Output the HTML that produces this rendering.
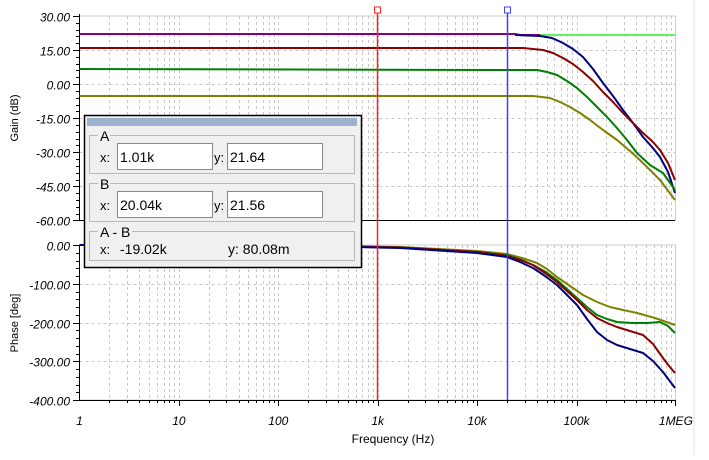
<!DOCTYPE html>
<html><head><meta charset="utf-8"><style>
body{margin:0;background:#fff;width:709px;height:455px;overflow:hidden;font-family:"Liberation Sans",sans-serif}
</style></head><body>
<svg id="s" width="709" height="455" xmlns="http://www.w3.org/2000/svg" font-family="Liberation Sans, sans-serif">
<line x1="694" y1="0" x2="694" y2="455" stroke="#e0e0e0"/>
<g id="grid" stroke="#c8c8c8" stroke-dasharray="3,3" stroke-width="1"></g>
<rect x="79.5" y="16" width="596" height="204.5" fill="none" stroke="#ccc"/>
<rect x="79.5" y="245" width="596" height="155" fill="none" stroke="#ccc"/>
<g id="ax" stroke="#000" stroke-width="1"></g>
<g id="lbl" font-size="12" font-style="italic" fill="#000"></g>
<text x="18" y="118" font-size="11" transform="rotate(-90 18 118)" text-anchor="middle">Gain (dB)</text>
<text x="18" y="323" font-size="11" transform="rotate(-90 18 323)" text-anchor="middle">Phase [deg]</text>
<text x="393" y="443" font-size="12" text-anchor="middle">Frequency (Hz)</text>
<!-- gain curves -->
<g fill="none" stroke-width="2" stroke-linejoin="round">
<polyline stroke="#66ee66" points="540,35 675,35"/>
<polyline stroke="#800080" points="79.5,34 515,34 520,35 540,35"/>
<polyline stroke="#000080" points="515,35 540,36 552,38 563,43 573,49 583,57 593,69 603,83 613,96 623,110 633,123 643,137 652,147 660,157 668,172 675,193"/>
<polyline stroke="#8b0000" points="79.5,48 523,48 543,50 553,53 563,58 573,64 583,72 593,81 603,92 613,102 623,113 633,123 643,133 652,141 660,150 668,163 675,180"/>
<polyline stroke="#008000" points="79.5,69 490,70 537,70 547,72 557,75 567,81 577,88 587,97 597,107 607,117 617,128 627,140 637,153 650,165 663,173 675,190"/>
<polyline stroke="#808000" points="79.5,96 533,96 550,98 560,102 570,107 580,113 590,120 603,130 617,140 630,151 643,163 660,180 675,200"/>
<!-- phase -->
<polyline stroke="#808000" points="79.5,245 300,245.5 400,247 477,251 507,254 522,258 537,263 547,269 557,277 570,286 583,295 597,302 610,307 623,310 637,313 655,318 675,325"/>
<polyline stroke="#008000" points="79.5,245 300,245.5 400,247.5 477,252 507,255 522,260 535,266 546,272 557,280 567,289 577,298 587,307 597,315 607,319 617,322 632,323 647,323 660,322 668,326 675,333"/>
<polyline stroke="#8b0000" points="79.5,245 300,245.5 400,247.5 477,252 507,256 520,260 533,265 545,273 557,282 567,291 577,300 587,310 597,318 607,323 617,327 630,331 643,335 653,344 663,358 669,366 675,373"/>
<polyline stroke="#000080" points="79.5,245 300,245.8 400,248 477,253 507,257 520,262 533,268 545,276 557,285 567,295 577,305 587,319 597,332 607,340 617,345 630,349 643,353 653,361 663,372 669,380 675,388"/>
</g>
<!-- cursors -->
<line x1="377.5" y1="12" x2="377.5" y2="400" stroke="#ff2020" stroke-width="1.5"/>
<line x1="507.5" y1="12" x2="507.5" y2="400" stroke="#4040ff" stroke-width="1.5"/>
<rect x="374.5" y="7" width="6" height="6" fill="#fff" stroke="#ff2020"/>
<rect x="504.5" y="7" width="6" height="6" fill="#fff" stroke="#4040ff"/>
<!-- dialog -->
<rect x="84.5" y="115.5" width="277" height="152" fill="#f0f0f0" stroke="#000" stroke-width="1.5"/>
<rect x="87" y="118" width="270" height="8" fill="#9db3cd"/>
<g fill="none" stroke="#b8b8b8">
<rect x="89.5" y="135.5" width="265" height="38"/>
<rect x="89.5" y="183.5" width="265" height="38"/>
<rect x="89.5" y="231.5" width="265" height="29"/>
</g>
<g fill="#fff" stroke="#888">
<rect x="117.5" y="143.5" width="95" height="26"/>
<rect x="227.5" y="143.5" width="95" height="26"/>
<rect x="117.5" y="191.5" width="95" height="26"/>
<rect x="227.5" y="191.5" width="95" height="26"/>
</g>
<g font-size="14" fill="#000">
<rect x="98" y="129" width="12" height="12" fill="#f0f0f0"/><text x="100" y="141">A</text>
<rect x="98" y="177" width="12" height="12" fill="#f0f0f0"/><text x="100" y="189">B</text>
<rect x="98" y="225" width="34" height="12" fill="#f0f0f0"/><text x="100" y="237">A - B</text>
<text x="100" y="162" font-size="13">x:</text><text x="120" y="162">1.01k</text>
<text x="214" y="162" font-size="13">y:</text><text x="230" y="162">21.64</text>
<text x="100" y="210" font-size="13">x:</text><text x="120" y="210">20.04k</text>
<text x="214" y="210" font-size="13">y:</text><text x="230" y="210">21.56</text>
<text x="100" y="254" font-size="13">x:</text><text x="120" y="254">-19.02k</text>
<text x="228" y="254">y: 80.08m</text>
</g>
</svg>
<script>
var ns="http://www.w3.org/2000/svg",g=document.getElementById('grid'),ax=document.getElementById('ax'),lb=document.getElementById('lbl');
function L(p,a,b,c,d){var l=document.createElementNS(ns,'line');l.setAttribute('x1',a);l.setAttribute('y1',b);l.setAttribute('x2',c);l.setAttribute('y2',d);p.appendChild(l);}
function T(x,y,s,a){var t=document.createElementNS(ns,'text');t.setAttribute('x',x);t.setAttribute('y',y);t.setAttribute('text-anchor',a);t.textContent=s;lb.appendChild(t);}
function X(f){return 79.5+99.4*Math.log10(f);}
for(var d=0;d<6;d++)for(var k=1;k<10;k++){var x=X(k*Math.pow(10,d));if(d==0&&k==1)continue;x=Math.round(x)+.5;L(g,x,16,x,220);L(g,x,245,x,400);L(ax,x,400,x,k==1?406:403);}
L(ax,675.5,400,675.5,406);
var gl=["30.00","15.00","0.00","-15.00","-30.00","-45.00","-60.00"];
for(var i=0;i<7;i++){var y=Math.round(16+i*34.08)+.5;if(i>0&&i<6)L(g,79.5,y,675,y);L(ax,73,y,79.5,y);T(70,y+5,gl[i],'end');if(i<6)for(var m=1;m<5;m++){var yy=Math.round(16+i*34.08+m*6.8)+.5;L(ax,76,yy,79.5,yy);}}
var pl=["0.00","-100.00","-200.00","-300.00","-400.00"];
for(var i=0;i<5;i++){var y=Math.round(245+i*38.75)+.5;if(i>0&&i<4)L(g,79.5,y,675,y);L(ax,73,y,79.5,y);T(70,y+5,pl[i],'end');if(i<4)for(var m=1;m<5;m++){var yy=Math.round(245+i*38.75+m*7.75)+.5;L(ax,76,yy,79.5,yy);}}
L(ax,79.5,14,79.5,220.5);L(ax,79.5,220.5,675,220.5);L(ax,79.5,245,79.5,400.5);L(ax,79.5,400.5,675,400.5);
var xl=["1","10","100","1k","10k","100k","1MEG"];
for(var i=0;i<7;i++)T(X(Math.pow(10,i)),425,xl[i],'middle');
</script>
</body></html>
